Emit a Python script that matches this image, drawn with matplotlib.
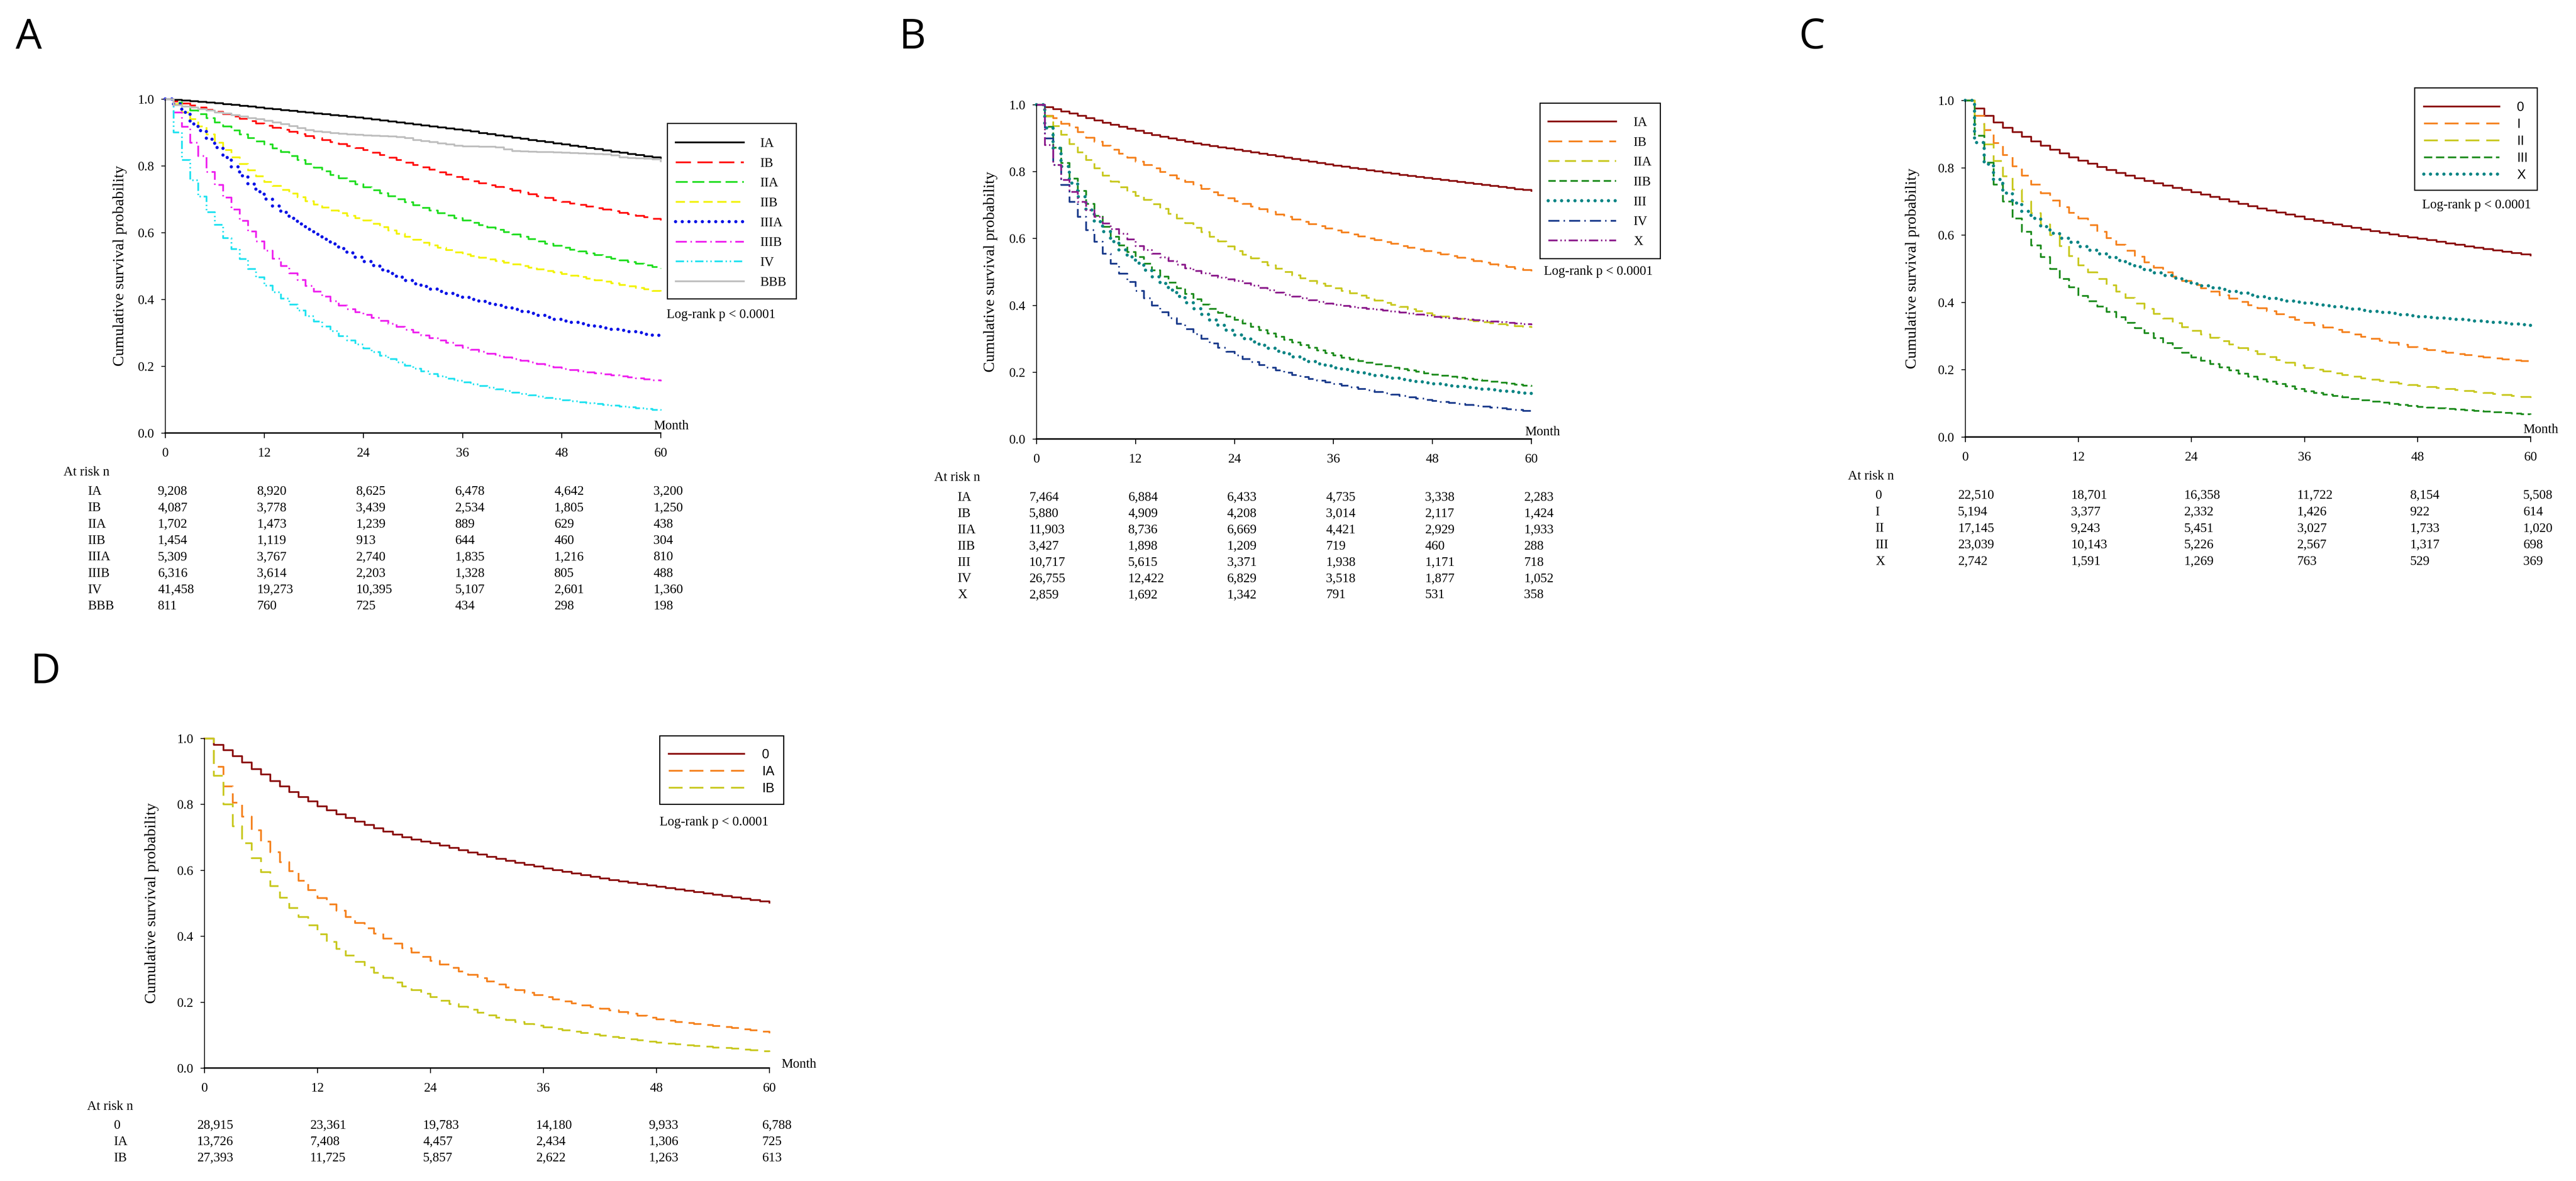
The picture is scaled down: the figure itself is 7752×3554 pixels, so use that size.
import numpy as np
import matplotlib
matplotlib.use("Agg")
import matplotlib.pyplot as plt
from matplotlib.lines import Line2D
from matplotlib.patches import Rectangle
from matplotlib.ticker import FormatStrFormatter
from matplotlib import transforms

plt.rcParams['font.family'] = 'Liberation Serif'
plt.rcParams['lines.scale_dashes'] = False

W, H = 7752, 3554
DPI = 100
FS = 28.5

month_ticks = [0, 12, 24, 36, 48, 60]

# ---------------- panel A ----------------
a_labels = ['IA', 'IB', 'IIA', 'IIB', 'IIIA', 'IIIB', 'IV', 'BBB']
a_ia = [1.000,
        0.998, 0.996, 0.994, 0.992, 0.990, 0.988, 0.985, 0.983, 0.980, 0.978, 0.975, 0.972,
        0.970, 0.967, 0.965, 0.962, 0.960, 0.957, 0.955, 0.952, 0.950, 0.947, 0.945, 0.942,
        0.939, 0.936, 0.933, 0.930, 0.927, 0.924, 0.921, 0.918, 0.915, 0.912, 0.909, 0.906,
        0.903, 0.899, 0.896, 0.892, 0.889, 0.885, 0.882, 0.878, 0.875, 0.872, 0.868, 0.865,
        0.861, 0.858, 0.854, 0.851, 0.847, 0.843, 0.840, 0.836, 0.833, 0.829, 0.826, 0.822]
a_ib = [1.000,
        0.993, 0.987, 0.981, 0.975, 0.968, 0.962, 0.955, 0.948, 0.941, 0.934, 0.927, 0.920,
        0.914, 0.908, 0.902, 0.896, 0.890, 0.884, 0.878, 0.872, 0.866, 0.860, 0.854, 0.848,
        0.840, 0.833, 0.825, 0.818, 0.810, 0.803, 0.796, 0.789, 0.781, 0.774, 0.767, 0.760,
        0.754, 0.748, 0.742, 0.737, 0.731, 0.726, 0.720, 0.715, 0.709, 0.704, 0.698, 0.693,
        0.688, 0.684, 0.679, 0.674, 0.670, 0.665, 0.660, 0.656, 0.651, 0.647, 0.642, 0.637]
a_iia = [1.000,
         0.990, 0.978, 0.966, 0.955, 0.943, 0.930, 0.918, 0.906, 0.895, 0.884, 0.874, 0.865,
         0.853, 0.842, 0.830, 0.818, 0.806, 0.795, 0.784, 0.773, 0.763, 0.754, 0.745, 0.736,
         0.727, 0.718, 0.709, 0.700, 0.692, 0.683, 0.675, 0.667, 0.659, 0.652, 0.644, 0.637,
         0.630, 0.623, 0.616, 0.609, 0.602, 0.595, 0.588, 0.581, 0.574, 0.567, 0.561, 0.555,
         0.549, 0.544, 0.538, 0.533, 0.527, 0.522, 0.517, 0.512, 0.507, 0.502, 0.498, 0.493]
a_iib = [1.000,
         0.985, 0.960, 0.940, 0.918, 0.895, 0.870, 0.848, 0.826, 0.806, 0.787, 0.769, 0.752,
         0.740, 0.728, 0.717, 0.706, 0.695, 0.685, 0.676, 0.667, 0.659, 0.651, 0.644, 0.637,
         0.627, 0.617, 0.607, 0.597, 0.588, 0.579, 0.570, 0.562, 0.555, 0.548, 0.541, 0.535,
         0.530, 0.525, 0.520, 0.515, 0.510, 0.505, 0.500, 0.496, 0.491, 0.486, 0.482, 0.477,
         0.472, 0.468, 0.463, 0.458, 0.454, 0.449, 0.444, 0.440, 0.435, 0.431, 0.426, 0.422]
a_iiia = [1.000,
          0.985, 0.960, 0.925, 0.905, 0.880, 0.855, 0.825, 0.797, 0.770, 0.745, 0.722, 0.700,
          0.680, 0.661, 0.643, 0.626, 0.610, 0.595, 0.580, 0.566, 0.552, 0.539, 0.526, 0.513,
          0.501, 0.489, 0.478, 0.467, 0.457, 0.447, 0.439, 0.431, 0.424, 0.418, 0.412, 0.406,
          0.400, 0.394, 0.388, 0.382, 0.376, 0.370, 0.364, 0.358, 0.352, 0.346, 0.340, 0.335,
          0.331, 0.327, 0.322, 0.318, 0.314, 0.310, 0.307, 0.303, 0.300, 0.296, 0.293, 0.290]
a_iiib = [1.000,
          0.960, 0.917, 0.870, 0.830, 0.782, 0.743, 0.705, 0.670, 0.636, 0.604, 0.574, 0.546,
          0.522, 0.500, 0.479, 0.459, 0.441, 0.424, 0.409, 0.395, 0.382, 0.371, 0.362, 0.354,
          0.345, 0.336, 0.327, 0.318, 0.309, 0.301, 0.293, 0.285, 0.278, 0.271, 0.263, 0.256,
          0.250, 0.244, 0.238, 0.232, 0.227, 0.222, 0.217, 0.212, 0.207, 0.202, 0.197, 0.192,
          0.189, 0.185, 0.182, 0.179, 0.176, 0.173, 0.170, 0.167, 0.164, 0.161, 0.158, 0.155]
a_iv = [1.000,
        0.900, 0.818, 0.757, 0.708, 0.662, 0.624, 0.584, 0.551, 0.521, 0.492, 0.467, 0.442,
        0.422, 0.403, 0.385, 0.367, 0.350, 0.334, 0.319, 0.305, 0.291, 0.278, 0.266, 0.254,
        0.243, 0.232, 0.222, 0.212, 0.202, 0.193, 0.185, 0.177, 0.170, 0.163, 0.157, 0.152,
        0.146, 0.141, 0.136, 0.131, 0.126, 0.121, 0.117, 0.113, 0.109, 0.105, 0.102, 0.099,
        0.096, 0.093, 0.090, 0.088, 0.085, 0.083, 0.080, 0.078, 0.075, 0.073, 0.070, 0.068]
a_bbb = [1.000,
         0.982, 0.978, 0.975, 0.970, 0.966, 0.960, 0.957, 0.952, 0.948, 0.943, 0.940, 0.935,
         0.930, 0.925, 0.919, 0.913, 0.907, 0.903, 0.901, 0.899, 0.897, 0.895, 0.894, 0.892,
         0.891, 0.890, 0.889, 0.887, 0.884, 0.878, 0.875, 0.872, 0.868, 0.865, 0.861, 0.859,
         0.859, 0.858, 0.858, 0.856, 0.850, 0.845, 0.844, 0.843, 0.842, 0.842, 0.841, 0.840,
         0.839, 0.838, 0.837, 0.836, 0.835, 0.832, 0.826, 0.824, 0.823, 0.822, 0.820, 0.814]
a_risk = [[9208, 8920, 8625, 6478, 4642, 3200],
          [4087, 3778, 3439, 2534, 1805, 1250],
          [1702, 1473, 1239, 889, 629, 438],
          [1454, 1119, 913, 644, 460, 304],
          [5309, 3767, 2740, 1835, 1216, 810],
          [6316, 3614, 2203, 1328, 805, 488],
          [41458, 19273, 10395, 5107, 2601, 1360],
          [811, 760, 725, 434, 298, 198]]

# ---------------- panel B ----------------
b_labels = ['IA', 'IB', 'IIA', 'IIB', 'III', 'IV', 'X']
b_ia = [1.000,
        0.993, 0.987, 0.980, 0.974, 0.967, 0.960, 0.953, 0.946, 0.940, 0.934, 0.928, 0.922,
        0.916, 0.910, 0.905, 0.900, 0.895, 0.890, 0.885, 0.881, 0.877, 0.873, 0.870, 0.866,
        0.862, 0.858, 0.854, 0.850, 0.846, 0.842, 0.838, 0.834, 0.830, 0.826, 0.822, 0.818,
        0.815, 0.811, 0.808, 0.804, 0.801, 0.797, 0.794, 0.790, 0.787, 0.784, 0.781, 0.778,
        0.775, 0.772, 0.769, 0.766, 0.763, 0.760, 0.757, 0.754, 0.751, 0.748, 0.746, 0.743]
b_ib = [1.000,
        0.967, 0.960, 0.943, 0.932, 0.918, 0.902, 0.890, 0.878, 0.866, 0.854, 0.842, 0.830,
        0.820, 0.810, 0.799, 0.789, 0.779, 0.769, 0.759, 0.749, 0.739, 0.730, 0.721, 0.712,
        0.704, 0.696, 0.688, 0.680, 0.672, 0.665, 0.657, 0.650, 0.643, 0.637, 0.630, 0.624,
        0.618, 0.612, 0.606, 0.600, 0.595, 0.589, 0.584, 0.578, 0.573, 0.568, 0.563, 0.558,
        0.553, 0.548, 0.543, 0.538, 0.533, 0.528, 0.523, 0.519, 0.515, 0.510, 0.506, 0.502]
b_iia = [1.000,
         0.965, 0.936, 0.911, 0.883, 0.858, 0.835, 0.810, 0.788, 0.770, 0.753, 0.740, 0.728,
         0.716, 0.703, 0.689, 0.674, 0.660, 0.646, 0.632, 0.619, 0.605, 0.591, 0.577, 0.563,
         0.552, 0.541, 0.530, 0.520, 0.510, 0.500, 0.490, 0.481, 0.473, 0.465, 0.458, 0.451,
         0.443, 0.436, 0.429, 0.422, 0.415, 0.408, 0.402, 0.396, 0.389, 0.383, 0.377, 0.371,
         0.367, 0.363, 0.360, 0.356, 0.353, 0.350, 0.347, 0.344, 0.341, 0.338, 0.336, 0.333]
b_iib = [1.000,
         0.934, 0.872, 0.826, 0.779, 0.743, 0.704, 0.668, 0.635, 0.605, 0.580, 0.560, 0.545,
         0.525, 0.505, 0.486, 0.468, 0.451, 0.434, 0.418, 0.403, 0.390, 0.378, 0.367, 0.357,
         0.346, 0.336, 0.326, 0.316, 0.306, 0.297, 0.289, 0.281, 0.273, 0.265, 0.257, 0.250,
         0.244, 0.239, 0.234, 0.229, 0.224, 0.219, 0.214, 0.210, 0.206, 0.202, 0.197, 0.193,
         0.190, 0.187, 0.184, 0.181, 0.178, 0.175, 0.172, 0.169, 0.166, 0.163, 0.160, 0.157]
b_iii = [1.000,
         0.930, 0.870, 0.815, 0.765, 0.725, 0.685, 0.650, 0.620, 0.590, 0.566, 0.545, 0.526,
         0.505, 0.485, 0.465, 0.445, 0.426, 0.408, 0.390, 0.373, 0.356, 0.340, 0.325, 0.311,
         0.300, 0.290, 0.280, 0.271, 0.262, 0.254, 0.246, 0.239, 0.232, 0.225, 0.219, 0.213,
         0.208, 0.203, 0.198, 0.194, 0.190, 0.186, 0.182, 0.178, 0.175, 0.171, 0.168, 0.165,
         0.162, 0.159, 0.157, 0.154, 0.152, 0.149, 0.147, 0.144, 0.142, 0.139, 0.137, 0.135]
b_iv = [1.000,
        0.900, 0.820, 0.760, 0.710, 0.665, 0.625, 0.590, 0.555, 0.525, 0.495, 0.470, 0.443,
        0.421, 0.400, 0.380, 0.362, 0.345, 0.329, 0.314, 0.300, 0.286, 0.273, 0.261, 0.250,
        0.240, 0.231, 0.222, 0.214, 0.206, 0.199, 0.192, 0.186, 0.180, 0.175, 0.170, 0.165,
        0.160, 0.155, 0.150, 0.146, 0.141, 0.137, 0.133, 0.129, 0.125, 0.121, 0.117, 0.114,
        0.111, 0.108, 0.105, 0.102, 0.099, 0.097, 0.094, 0.092, 0.089, 0.087, 0.084, 0.081]
b_x = [1.000,
       0.880, 0.820, 0.775, 0.740, 0.710, 0.685, 0.665, 0.645, 0.628, 0.614, 0.597, 0.578,
       0.566, 0.555, 0.544, 0.533, 0.522, 0.511, 0.503, 0.496, 0.489, 0.483, 0.478, 0.473,
       0.466, 0.459, 0.452, 0.445, 0.438, 0.431, 0.426, 0.421, 0.416, 0.411, 0.406, 0.402,
       0.399, 0.396, 0.393, 0.390, 0.388, 0.385, 0.382, 0.379, 0.376, 0.373, 0.370, 0.366,
       0.364, 0.362, 0.360, 0.358, 0.356, 0.354, 0.352, 0.350, 0.348, 0.346, 0.344, 0.341]
b_risk = [[7464, 6884, 6433, 4735, 3338, 2283],
          [5880, 4909, 4208, 3014, 2117, 1424],
          [11903, 8736, 6669, 4421, 2929, 1933],
          [3427, 1898, 1209, 719, 460, 288],
          [10717, 5615, 3371, 1938, 1171, 718],
          [26755, 12422, 6829, 3518, 1877, 1052],
          [2859, 1692, 1342, 791, 531, 358]]

# ---------------- panel C ----------------
c_labels = ['0', 'I', 'II', 'III', 'X']
c_0 = [1.000,
       0.976, 0.955, 0.935, 0.919, 0.906, 0.892, 0.879, 0.866, 0.854, 0.843, 0.831, 0.821,
       0.812, 0.803, 0.794, 0.785, 0.777, 0.769, 0.761, 0.754, 0.747, 0.740, 0.734, 0.728,
       0.721, 0.714, 0.707, 0.700, 0.693, 0.686, 0.679, 0.673, 0.667, 0.661, 0.655, 0.648,
       0.643, 0.637, 0.632, 0.627, 0.622, 0.617, 0.612, 0.607, 0.602, 0.597, 0.593, 0.589,
       0.585, 0.580, 0.576, 0.572, 0.567, 0.563, 0.559, 0.555, 0.551, 0.547, 0.543, 0.540]
c_i = [1.000,
       0.955, 0.912, 0.874, 0.838, 0.805, 0.777, 0.750, 0.725, 0.703, 0.683, 0.666, 0.650,
       0.630, 0.610, 0.591, 0.572, 0.554, 0.536, 0.519, 0.503, 0.490, 0.477, 0.464, 0.452,
       0.442, 0.432, 0.422, 0.412, 0.402, 0.392, 0.383, 0.374, 0.365, 0.356, 0.348, 0.340,
       0.333, 0.326, 0.319, 0.312, 0.305, 0.298, 0.292, 0.286, 0.280, 0.274, 0.268, 0.263,
       0.259, 0.255, 0.251, 0.247, 0.244, 0.240, 0.237, 0.234, 0.231, 0.228, 0.226, 0.224]
c_ii = [1.000,
        0.930, 0.870, 0.820, 0.775, 0.735, 0.700, 0.665, 0.632, 0.600, 0.568, 0.538, 0.510,
        0.490, 0.470, 0.451, 0.432, 0.414, 0.397, 0.381, 0.366, 0.352, 0.339, 0.327, 0.316,
        0.305, 0.295, 0.285, 0.275, 0.265, 0.256, 0.247, 0.238, 0.229, 0.221, 0.213, 0.205,
        0.200, 0.195, 0.190, 0.185, 0.180, 0.175, 0.171, 0.167, 0.163, 0.159, 0.155, 0.152,
        0.149, 0.146, 0.143, 0.140, 0.137, 0.134, 0.131, 0.128, 0.125, 0.122, 0.119, 0.116]
c_iii = [1.000,
         0.895, 0.815, 0.750, 0.700, 0.650, 0.610, 0.570, 0.535, 0.500, 0.470, 0.445, 0.420,
         0.404, 0.388, 0.372, 0.356, 0.340, 0.324, 0.309, 0.294, 0.279, 0.265, 0.251, 0.237,
         0.227, 0.217, 0.207, 0.198, 0.189, 0.180, 0.172, 0.165, 0.158, 0.151, 0.143, 0.136,
         0.131, 0.126, 0.122, 0.118, 0.114, 0.110, 0.106, 0.103, 0.099, 0.096, 0.093, 0.090,
         0.088, 0.086, 0.084, 0.082, 0.080, 0.078, 0.076, 0.074, 0.072, 0.070, 0.068, 0.067]
c_x = [1.000,
       0.875, 0.810, 0.765, 0.725, 0.695, 0.670, 0.650, 0.625, 0.605, 0.590, 0.578, 0.566,
       0.555, 0.544, 0.534, 0.524, 0.514, 0.505, 0.496, 0.488, 0.480, 0.472, 0.463, 0.455,
       0.449, 0.443, 0.438, 0.432, 0.427, 0.422, 0.417, 0.412, 0.408, 0.404, 0.401, 0.398,
       0.394, 0.390, 0.387, 0.383, 0.380, 0.376, 0.373, 0.370, 0.367, 0.363, 0.360, 0.357,
       0.355, 0.353, 0.351, 0.349, 0.347, 0.345, 0.343, 0.341, 0.339, 0.336, 0.334, 0.331]
c_risk = [[22510, 18701, 16358, 11722, 8154, 5508],
          [5194, 3377, 2332, 1426, 922, 614],
          [17145, 9243, 5451, 3027, 1733, 1020],
          [23039, 10143, 5226, 2567, 1317, 698],
          [2742, 1591, 1269, 763, 529, 369]]

# ---------------- panel D ----------------
d_labels = ['0', 'IA', 'IB']
d_0 = [1.000,
       0.981, 0.965, 0.947, 0.927, 0.907, 0.891, 0.871, 0.855, 0.838, 0.823, 0.809, 0.794,
       0.782, 0.770, 0.759, 0.748, 0.738, 0.728, 0.718, 0.709, 0.701, 0.694, 0.688, 0.682,
       0.675, 0.668, 0.661, 0.654, 0.648, 0.641, 0.635, 0.629, 0.623, 0.617, 0.612, 0.606,
       0.601, 0.596, 0.591, 0.586, 0.581, 0.576, 0.571, 0.567, 0.563, 0.558, 0.554, 0.550,
       0.546, 0.542, 0.538, 0.534, 0.530, 0.526, 0.522, 0.518, 0.514, 0.510, 0.506, 0.502]
d_ia = [1.000,
        0.914, 0.855, 0.805, 0.763, 0.722, 0.688, 0.655, 0.625, 0.598, 0.569, 0.540, 0.516,
        0.497, 0.478, 0.459, 0.441, 0.424, 0.408, 0.393, 0.378, 0.364, 0.351, 0.338, 0.326,
        0.315, 0.304, 0.293, 0.283, 0.273, 0.263, 0.254, 0.245, 0.237, 0.229, 0.222, 0.216,
        0.209, 0.203, 0.197, 0.191, 0.185, 0.180, 0.175, 0.170, 0.165, 0.159, 0.153, 0.148,
        0.144, 0.140, 0.137, 0.134, 0.131, 0.128, 0.125, 0.122, 0.118, 0.115, 0.111, 0.106]
d_ib = [1.000,
        0.887, 0.800, 0.734, 0.682, 0.637, 0.595, 0.552, 0.517, 0.486, 0.459, 0.433, 0.406,
        0.383, 0.362, 0.342, 0.323, 0.305, 0.289, 0.274, 0.260, 0.248, 0.237, 0.226, 0.216,
        0.205, 0.195, 0.186, 0.177, 0.168, 0.160, 0.153, 0.146, 0.140, 0.134, 0.129, 0.124,
        0.119, 0.115, 0.111, 0.107, 0.103, 0.099, 0.095, 0.092, 0.088, 0.085, 0.081, 0.078,
        0.075, 0.073, 0.070, 0.068, 0.066, 0.063, 0.061, 0.059, 0.056, 0.054, 0.051, 0.049]
d_risk = [[28915, 23361, 19783, 14180, 9933, 6788],
          [13726, 7408, 4457, 2434, 1306, 725],
          [27393, 11725, 5857, 2622, 1263, 613]]

# line styles: (colour, linestyle, linewidth)
SOLID = '-'
DOT = (0, (0.01, 14.5))
LW = 3.8
LWD = 7.0

a_styles = [('#000000', SOLID, LW),
            ('#FF1010', (0, (33, 14)), LW),
            ('#22DD22', (0, (26, 10)), LW),
            ('#F2F200', (0, (20, 10)), LW),
            ('#0A14E6', DOT, LWD),
            ('#EE22EE', (0, (24, 8, 3, 8)), LW),
            ('#22E2F0', (0, (18, 6, 3, 6, 3, 6)), LW),
            ('#BEBEBE', SOLID, LW)]
b_styles = [('#8B1010', SOLID, LW),
            ('#F5821F', (0, (30, 14)), LW),
            ('#C8C820', (0, (24, 12)), LW),
            ('#1E8C1E', (0, (16, 8)), LW),
            ('#0A8585', DOT, LWD),
            ('#1C3C8C', (0, (24, 9, 3, 9)), LW),
            ('#8C1C8C', (0, (20, 6, 3, 6, 3, 6)), LW)]
c_styles = [('#8B1010', SOLID, LW),
            ('#F5821F', (0, (30, 15)), LW),
            ('#C8C820', (0, (30, 15)), LW),
            ('#1E8C1E', (0, (18, 8)), LW),
            ('#0A8585', DOT, LWD)]
d_styles = [('#8B1010', SOLID, LW),
            ('#F5821F', (0, (30, 15)), LW),
            ('#C8C820', (0, (30, 15)), LW)]

# panel layout, all in pixels of the final image
panels = [
    dict(letter='A', letter_xy=(87, 146), curves=[a_ia, a_ib, a_iia, a_iib, a_iiia, a_iiib, a_iv, a_bbb],
         labels=a_labels, styles=a_styles, risk=a_risk,
         box=(497, 1988, 298, 1303), ylab_x=361, month=(1968, 1292), logrank=(2006, 957),
         legend=(2008, 371, 2396, 899), leg_y0=428, leg_dy=59.7, leg_line=(2033, 2238), leg_tx=2288,
         leg_font='Liberation Serif', risk_head=(191, 1431), risk_lab_x=265, risk_y0=1489, risk_dy=49.3),
    dict(letter='B', letter_xy=(2746, 146), curves=[b_ia, b_ib, b_iia, b_iib, b_iii, b_iv, b_x],
         labels=b_labels, styles=b_styles, risk=b_risk,
         box=(3119, 4608, 315, 1321), ylab_x=2981, month=(4590, 1310), logrank=(4646, 827),
         legend=(4634, 310, 4996, 778), leg_y0=365, leg_dy=59.7, leg_line=(4659, 4863), leg_tx=4916,
         leg_font='Liberation Serif', risk_head=(2811, 1447), risk_lab_x=2882, risk_y0=1507, risk_dy=48.9),
    dict(letter='C', letter_xy=(5453, 146), curves=[c_0, c_i, c_ii, c_iii, c_x],
         labels=c_labels, styles=c_styles, risk=c_risk,
         box=(5914, 7615, 302, 1315), ylab_x=5755, month=(7594, 1303), logrank=(7289, 627),
         legend=(7266, 264, 7635, 572), leg_y0=320, leg_dy=51, leg_line=(7294, 7521), leg_tx=7574,
         leg_font='Liberation Sans', risk_head=(5561, 1443), risk_lab_x=5644, risk_y0=1501, risk_dy=49.7),
    dict(letter='D', letter_xy=(137, 2056), curves=[d_0, d_ia, d_ib],
         labels=d_labels, styles=d_styles, risk=d_risk,
         box=(615, 2315, 2222, 3214), ylab_x=456, month=(2352, 3213), logrank=(1985, 2484),
         legend=(1985, 2214, 2358, 2420), leg_y0=2268, leg_dy=51, leg_line=(2012, 2239), leg_tx=2293,
         leg_font='Liberation Sans', risk_head=(262, 3340), risk_lab_x=343, risk_y0=3397, risk_dy=49),
]

fig = plt.figure(figsize=(W / DPI, H / DPI), dpi=DPI)
fig.patch.set_facecolor('white')

overlay = fig.add_axes([0, 0, 1, 1], zorder=5)
overlay.set_xlim(0, W)
overlay.set_ylim(H, 0)
overlay.axis('off')

for p in panels:
    l, r, t, b = p['box']
    ax = fig.add_axes([l / W, 1 - b / H, (r - l) / W, (b - t) / H])
    for vals, (col, ls, lw) in zip(p['curves'], p['styles']):
        ax.step(np.arange(len(vals)), vals, where='post', color=col, linestyle=ls, lw=lw,
                clip_on=False, dash_capstyle='round' if ls == DOT else 'butt')
    ax.set_xlim(0, 60)
    ax.set_ylim(0, 1)
    ax.spines['top'].set_visible(False)
    ax.spines['right'].set_visible(False)
    ax.spines['left'].set_linewidth(1.8)
    ax.spines['bottom'].set_linewidth(3.2)
    ax.set_xticks(month_ticks)
    ax.set_yticks([0, 0.2, 0.4, 0.6, 0.8, 1.0])
    ax.yaxis.set_major_formatter(FormatStrFormatter('%.1f'))
    ax.tick_params(axis='x', length=11, width=2, pad=20, labelsize=FS)
    ax.tick_params(axis='y', length=9, width=1.8, pad=15, labelsize=FS)
    ax.set_ylabel('Cumulative survival probability', fontsize=34)
    ax.yaxis.label.set_va('center')
    ax.yaxis.set_label_coords((p['ylab_x'] - l) / (r - l), 0.5)

    # panel letter, month label, log-rank
    overlay.text(*p['letter_xy'], p['letter'], ha='center', va='baseline',
                 family='Open Sans', fontsize=90)
    overlay.text(*p['month'], 'Month', ha='left', va='baseline', fontsize=FS)
    overlay.text(*p['logrank'], 'Log-rank p < 0.0001', ha='left', va='baseline', fontsize=FS)

    # legend box
    bx0, by0, bx1, by1 = p['legend']
    overlay.add_patch(Rectangle((bx0, by0), bx1 - bx0, by1 - by0, fill=False,
                                edgecolor='black', lw=2.4))
    lx0, lx1 = p['leg_line']
    for i, (lab, (col, ls, lw)) in enumerate(zip(p['labels'], p['styles'])):
        y = p['leg_y0'] + i * p['leg_dy']
        overlay.add_line(Line2D([lx0, lx1], [y, y], color=col, linestyle=ls, lw=lw,
                                dash_capstyle='round' if ls == DOT else 'butt'))
        overlay.text(p['leg_tx'], y + 14, lab, ha='left', va='baseline',
                     family=p['leg_font'], fontsize=FS)

    # number at risk table
    overlay.text(*p['risk_head'], 'At risk n', ha='left', va='baseline', fontsize=FS)
    trans = transforms.offset_copy(
        transforms.blended_transform_factory(ax.transData, overlay.transData),
        fig=fig, x=-22, units='dots')
    for i, (lab, row) in enumerate(zip(p['labels'], p['risk'])):
        y = p['risk_y0'] + i * p['risk_dy']
        overlay.text(p['risk_lab_x'], y, lab, ha='left', va='baseline', fontsize=FS)
        for m, n in zip(month_ticks, row):
            overlay.text(m, y, f'{n:,}', ha='left', va='baseline', fontsize=FS, transform=trans)

fig.savefig('out.png', dpi=DPI, facecolor='white')
